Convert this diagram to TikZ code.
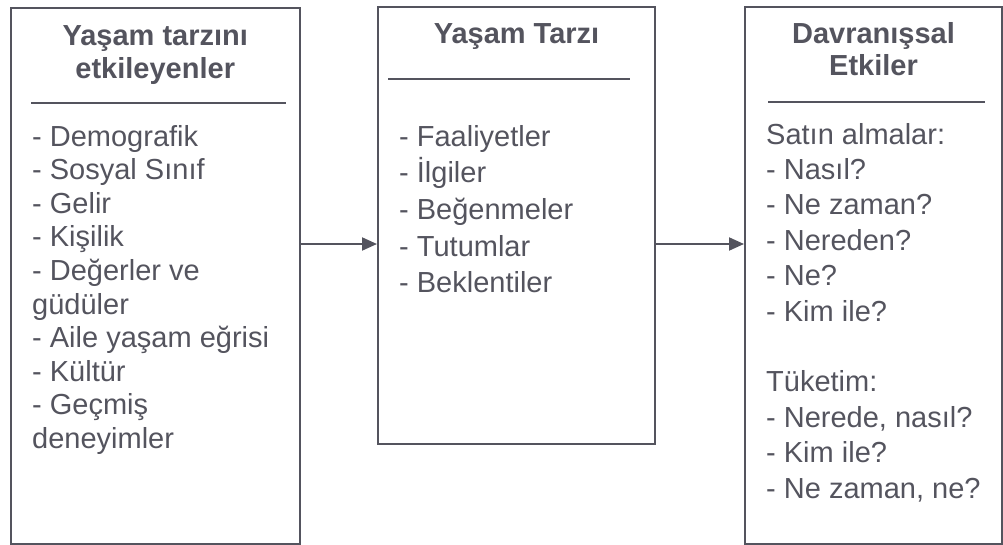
\documentclass[tikz,border=0pt]{standalone}
\usepackage{fontspec}
\setmainfont{Liberation Sans}
\usetikzlibrary{arrows.meta, positioning, calc}
\definecolor{ink}{RGB}{84,84,94}

\begin{document}
\begin{tikzpicture}[x=1pt, y=-1pt,
    box/.style={draw=ink, line width=2pt, anchor=north west, inner sep=0pt},
    head/.style={text=ink, font=\bfseries\fontsize{29}{33}\selectfont,
                 align=center, inner sep=0pt, anchor=base},
    items/.style={text=ink, align=left, inner sep=0pt, anchor=base west},
    sep/.style={draw=ink, line width=2pt},
    arr/.style={-{Triangle[length=15pt, width=13pt]}, draw=ink, line width=2pt},
]
    \useasboundingbox (0,0) rectangle (1003,544);
    % the three boxes
    \node[box, minimum width=289.5pt, minimum height=535.5pt] (left) at (9.5,7) {};
    \node[box, minimum width=277pt, minimum height=437pt] (mid) at (377,6) {};
    \node[box, minimum width=257pt, minimum height=536.5pt] (right) at (744,6) {};
    % headings (base = last line)
    \node[head] (lefthead) at ($(left.north)+(0,71)$) {Yaşam tarzını\\etkileyenler};
    \node[head] (midhead) at ($(mid.north)+(0,37)$) {Yaşam Tarzı};
    \node[head, font=\bfseries\fontsize{29}{32}\selectfont] (righthead) at ($(right.north)+(0,69)$) {Davranışsal\\Etkiler};
    \draw[sep] ($(left.north west)+(21.5,96)$) -- ($(left.north east)+(-15,96)$);
    \draw[sep] ($(mid.north west)+(11,73)$) -- ($(mid.north east)+(-26,73)$);
    \draw[sep] ($(right.north west)+(24,96)$) -- ($(right.north east)+(-18,96)$);
    % lists
    \node[items, font=\fontsize{29}{33.6}\selectfont] (leftlist) at (32,448.4)
        {- Demografik\\- Sosyal Sınıf\\- Gelir\\- Kişilik\\- Değerler ve\\güdüler\\- Aile yaşam eğrisi\\- Kültür\\- Geçmiş\\deneyimler};
    \node[items, font=\fontsize{29}{36.7}\selectfont] (midlist) at (399,292.8)
        {- Faaliyetler\\- İlgiler\\- Beğenmeler\\- Tutumlar\\- Beklentiler};
    \node[items, font=\fontsize{29}{35.4}\selectfont] (rightlist) at (766,498)
        {Satın almalar:\\- Nasıl?\\- Ne zaman?\\- Nereden?\\- Ne?\\- Kim ile?\\[35.4pt]Tüketim:\\- Nerede, nasıl?\\- Kim ile?\\- Ne zaman, ne?};
    \coordinate (lvl) at (0,244);
    \draw[arr] (left.east |- lvl) -- (mid.west |- lvl);
    \draw[arr] (mid.east |- lvl) -- (right.west |- lvl);
\end{tikzpicture}
\end{document}
